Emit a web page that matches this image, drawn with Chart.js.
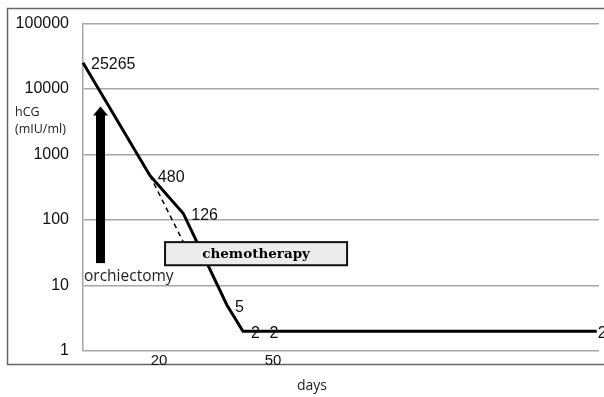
<!DOCTYPE html>
<html>
<head>
<meta charset="utf-8">
<script src="https://cdn.jsdelivr.net/npm/chart.js@4/dist/chart.umd.min.js"></script>
<style>
  html, body { margin: 0; padding: 0; background: #fff; }
  #wrap { width: 604px; height: 397px; position: relative; }
</style>
</head>
<body>
<div id="wrap"><canvas id="hcgChart"></canvas></div>
<script>
// hCG course (days after first measurement, mIU/ml)
const days = [0, 17.6, 26.4, 37.9, 42.1, 47, 135.2];
const hcg = [25265, 480, 126, 5, 2, 2, 2];
// expected decline without chemo (dashed)
const dashDays = [17.6, 26.5];
const dashHcg = [480, 45];
const xTicks = [20, 50];
const yTicks = [1, 10, 100, 1000, 10000, 100000];

// annotations in data units
const orchiectomy = { day: 4.6, from: 22, to: 5400 };
const chemo = { start: 21.6, end: 69.5, low: 20.4, high: 46 };

const decor = {
  id: 'decor',
  beforeDraw(chart) {
    const ctx = chart.ctx;
    ctx.save();
    ctx.strokeStyle = '#666';
    ctx.lineWidth = 1.5;
    ctx.strokeRect(7.5, 8.5, 640, 356);
    ctx.fillStyle = '#222';
    ctx.font = '12.5px "Open Sans"';
    ctx.textAlign = 'left';
    ctx.textBaseline = 'middle';
    ctx.fillText('hCG', 15, 112);
    ctx.fillText('(mIU/ml)', 15, 129);
    ctx.font = '14px "Open Sans"';
    ctx.fillText('days', 297, 386);
    ctx.restore();
  },
  afterDatasetsDraw(chart) {
    const ctx = chart.ctx;
    const x = chart.scales.x, y = chart.scales.y;
    ctx.save();
    // orchiectomy arrow
    const ax = x.getPixelForValue(orchiectomy.day);
    const y0 = y.getPixelForValue(orchiectomy.from);
    const y1 = y.getPixelForValue(orchiectomy.to);
    ctx.fillStyle = '#000';
    ctx.fillRect(ax - 4.5, y1 + 8, 9, y0 - y1 - 8);
    ctx.beginPath();
    ctx.moveTo(ax, y1);
    ctx.lineTo(ax + 7.5, y1 + 9);
    ctx.lineTo(ax - 7.5, y1 + 9);
    ctx.closePath();
    ctx.fill();
    ctx.fillStyle = '#222';
    ctx.font = '15.5px "Open Sans"';
    ctx.textAlign = 'left';
    ctx.textBaseline = 'middle';
    ctx.fillText('orchiectomy', 84, 277);
    // chemotherapy box
    const bx0 = x.getPixelForValue(chemo.start), bx1 = x.getPixelForValue(chemo.end);
    const by0 = y.getPixelForValue(chemo.high), by1 = y.getPixelForValue(chemo.low);
    ctx.fillStyle = '#ececec';
    ctx.fillRect(bx0, by0, bx1 - bx0, by1 - by0);
    ctx.strokeStyle = '#111';
    ctx.lineWidth = 2;
    ctx.strokeRect(bx0, by0, bx1 - bx0, by1 - by0);
    ctx.fillStyle = '#000';
    ctx.font = 'bold 13.5px "DejaVu Serif"';
    ctx.textAlign = 'center';
    ctx.fillText('chemotherapy', (bx0 + bx1) / 2, (by0 + by1) / 2 + 1);
    // value labels
    ctx.font = '16px "Liberation Sans"';
    ctx.textAlign = 'left';
    ctx.fillStyle = '#111';
    const pts = chart.getDatasetMeta(0).data;
    pts.forEach((pt, i) => {
      const gap = i === pts.length - 1 ? 1 : 8;
      ctx.fillText(String(hcg[i]), pt.x + gap, pt.y + 2);
    });
    ctx.restore();
  }
};

new Chart(document.getElementById('hcgChart'), {
  type: 'scatter',
  data: {
    datasets: [
      {
        data: days.map((d, i) => ({ x: d, y: hcg[i] })),
        showLine: true,
        borderColor: '#000',
        borderWidth: 3,
        pointRadius: 0,
        tension: 0,
        clip: false
      },
      {
        data: dashDays.map((d, i) => ({ x: d, y: dashHcg[i] })),
        showLine: true,
        borderColor: '#000',
        borderWidth: 1.5,
        borderDash: [5, 4],
        pointRadius: 0
      }
    ]
  },
  options: {
    responsive: true,
    maintainAspectRatio: false,
    animation: false,
    layout: { padding: { left: 0, top: 23, right: 5, bottom: 0 } },
    plugins: { legend: { display: false }, tooltip: { enabled: false } },
    scales: {
      x: {
        type: 'linear',
        min: 0,
        max: 135.8,
        afterBuildTicks: s => { s.ticks = xTicks.map(v => ({ value: v })); },
        afterFit: s => { s.height = 46; },
        grid: { display: false, drawTicks: false },
        border: { display: false },
        ticks: { color: '#111', font: { family: 'Liberation Sans', size: 15 }, padding: 1, maxRotation: 0 }
      },
      y: {
        type: 'logarithmic',
        min: 1,
        max: 100000,
        afterBuildTicks: s => { s.ticks = yTicks.map(v => ({ value: v })); },
        afterFit: s => { s.width = 83; },
        grid: { color: '#a6a6a6', lineWidth: 1.5, drawTicks: false },
        border: { color: '#a6a6a6', width: 1.5 },
        ticks: { color: '#111', font: { family: 'Liberation Sans', size: 16 }, padding: 14, callback: v => String(v) }
      }
    }
  },
  plugins: [decor]
});
</script>
</body>
</html>
